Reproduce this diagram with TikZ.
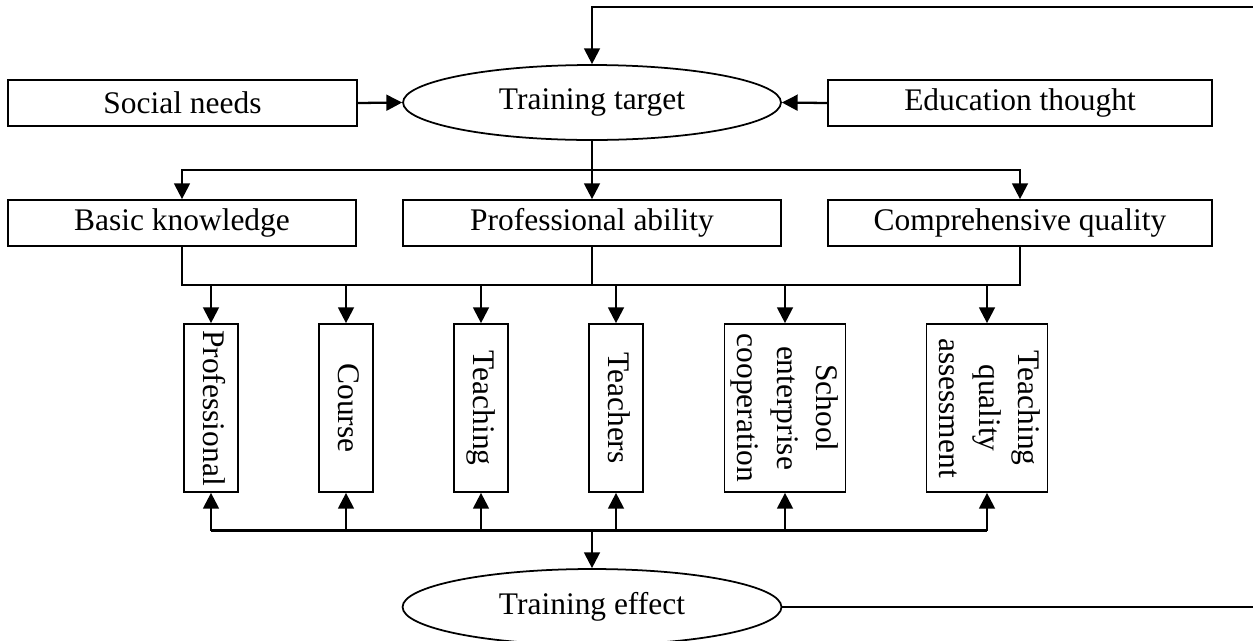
\documentclass[tikz,border=0pt]{standalone}
\usepackage{fontspec}
\setmainfont{Liberation Serif}
\usepackage{graphicx}
\usetikzlibrary{shapes.geometric,arrows.meta,calc}
\newcommand{\vlabel}[1]{\rotatebox{-90}{\begin{tabular}{@{}c@{}}#1\end{tabular}}}

\begin{document}
\begin{tikzpicture}[x=0.02cm,y=-0.02cm,
  box/.style={draw,line width=1pt,inner sep=0pt,font=\fontsize{17.9}{22.7}\selectfont},
  oval/.style={box,ellipse},
  vbox/.style={box,minimum width=1.08cm,minimum height=3.36cm},
  arr/.style={line width=1.3pt,-{Triangle[length=9pt,width=9pt]}},
  ln/.style={line width=1.3pt}]
\useasboundingbox (0,0) rectangle (1253,640);
\clip (0,0) rectangle (1253,640);
% inputs and target
\node[box,minimum width=6.98cm,minimum height=0.92cm] (social) at (182.5,103) {Social needs};
\node[oval,minimum width=7.56cm,minimum height=1.5cm] (target) at (592,102.5) {Training target};
\node[box,minimum width=7.68cm,minimum height=0.92cm] (edu) at (1020,103) {Education thought};
% second row
\node[box,minimum width=6.96cm,minimum height=0.92cm] (basic) at (182,223) {Basic knowledge};
\node[box,minimum width=7.56cm,minimum height=0.92cm] (ability) at (592,223) {Professional ability};
\node[box,minimum width=7.68cm,minimum height=0.92cm] (comp) at (1020,223) {Comprehensive quality};
% vertical boxes
\node[vbox] (prof) at (211,408) {\vlabel{Professional}};
\node[vbox] (course) at (346,408) {\vlabel{Course}};
\node[vbox] (teach) at (481,408) {\vlabel{Teaching}};
\node[vbox] (teachers) at (616,408) {\vlabel{Teachers}};
\node[vbox,minimum width=2.42cm] (school) at (785,408) {\vlabel{School\\enterprise\\cooperation}};
\node[vbox,minimum width=2.42cm] (quality) at (987,408) {\vlabel{Teaching\\quality\\assessment}};
% result
\node[oval,minimum width=7.58cm,minimum height=1.52cm] (effect) at (592,607) {Training effect};

\coordinate (fork) at ($(target.south)!0.5!(ability.north)$);
\coordinate (upbus) at ($(ability.south)!0.5!(teachers.north)$);
\coordinate (lowbus) at ($(prof.south)!0.5!(effect.north)$);
\coordinate (back1) at (1262,607);
\coordinate (back2) at (1262,7);

\draw[arr] (effect.east) -- (back1) -- (back2) -| (target.north);
\draw[arr] (social.east) -- (target.west);
\draw[arr] (edu.west) -- (target.east);
\draw[arr] (target.south) -- (ability.north);
\draw[arr] (fork) -| (basic.north);
\draw[arr] (fork) -| (comp.north);
\draw[ln] (basic.south) |- (upbus -| comp.south) -- (comp.south);
\draw[ln] (ability.south) -- (ability.south |- upbus);
\foreach \n in {prof,course,teach,teachers,school,quality}
  \draw[arr] (upbus -| \n.north) -- (\n.north);
\draw[ln] (lowbus -| prof.south) -- (lowbus -| quality.south);
\foreach \n in {prof,course,teach,teachers,school,quality}
  \draw[arr] (lowbus -| \n.south) -- (\n.south);
\draw[arr] (lowbus -| effect.north) -- (effect.north);
\end{tikzpicture}
\end{document}
